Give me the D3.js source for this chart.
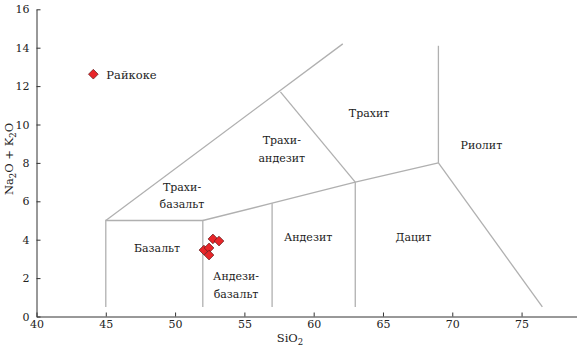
<!DOCTYPE html>
<html lang="ru">
<head>
<meta charset="utf-8">
<title>TAS</title>
<script src="https://cdn.jsdelivr.net/npm/d3@7"></script>
<style>
  body { margin: 0; background: #fff; }
  svg text { font-family: "DejaVu Serif", "Liberation Serif", "Noto Serif", "Times New Roman", Times, serif !important; fill: #222; }
  .axis text { font-size: 11px; }
  .field { font-size: 11px; }
</style>
</head>
<body>
<svg width="577" height="352"></svg>
<script>
// границы полей (SiO2, Na2O+K2O)
const boundaries = [
  [[45, 0.5], [45, 5], [52, 5], [52, 0.5]],
  [[57, 0.5], [57, 5.9]],
  [[63, 0.5], [63, 7]],
  [[52, 5], [57, 5.9], [63, 7], [69, 8]],
  [[69, 8], [69, 14.1]],
  [[69, 8], [76.5, 0.5]],
  [[45, 5], [62.1, 14.2]],
  [[57.6, 11.7], [63, 7]]
];

const fieldNames = [
  {x: 54.4, y: 1.9, lines: ["Андези-", "базальт"]},
  {x: 48.7, y: 3.35, lines: ["Базальт"]},
  {x: 59.6, y: 3.93, lines: ["Андезит"]},
  {x: 67.2, y: 3.93, lines: ["Дацит"]},
  {x: 50.5, y: 6.54, lines: ["Трахи-", "базальт"]},
  {x: 57.7, y: 8.98, lines: ["Трахи-", "андезит"]},
  {x: 64.0, y: 10.39, lines: ["Трахит"]},
  {x: 72.1, y: 8.72, lines: ["Риолит"]}
];

const sio2 = [44.1, 52.73, 53.17, 52.08, 52.45, 52.45];
const alk = [12.62, 4.04, 3.93, 3.46, 3.57, 3.2];

const xTicks = [40, 45, 50, 55, 60, 65, 70, 75];
const yTicks = [0, 2, 4, 6, 8, 10, 12, 14, 16];

const svg = d3.select("svg");
const x = d3.scaleLinear().domain([40, 79]).range([36.5, 577]);
const y = d3.scaleLinear().domain([0, 16]).range([316.5, 9.3]);

const line = d3.line().x(d => x(d[0])).y(d => y(d[1]));

svg.append("g")
  .selectAll("path")
  .data(boundaries)
  .enter()
  .append("path")
    .attr("d", line)
    .attr("fill", "none")
    .attr("stroke", "#b0b0b0")
    .attr("stroke-width", 1.3);

// оси
const gx = svg.append("g").attr("class", "axis")
  .attr("transform", "translate(0," + y(0) + ")")
  .call(d3.axisBottom(x).tickValues(xTicks).tickSizeInner(-4).tickSizeOuter(0).tickPadding(4));

const gy = svg.append("g").attr("class", "axis")
  .attr("transform", "translate(" + x(40) + ",0)")
  .call(d3.axisLeft(y).tickValues(yTicks).tickSizeInner(-4).tickSizeOuter(0).tickPadding(7));
svg.selectAll(".axis").attr("font-family", null);
svg.selectAll(".axis text").attr("fill", "#222");
svg.selectAll(".axis .domain").attr("stroke", "#333");
svg.selectAll(".axis line").attr("stroke", "#333");

// названия полей
const names = svg.append("g").attr("class", "field")
  .selectAll("text")
  .data(fieldNames)
  .enter()
  .append("text")
    .attr("text-anchor", "middle")
    .attr("x", d => x(d.x))
    .attr("y", d => y(d.y));
names.selectAll("tspan")
  .data(d => d.lines.map((t, i) => ({t: t, i: i, x: d.x})))
  .enter()
  .append("tspan")
    .attr("x", d => x(d.x))
    .attr("dy", d => d.i === 0 ? 0 : 17.5)
    .text(d => d.t);

// точки
const diamond = d3.symbol().type(d3.symbolDiamond2).size(60);
svg.append("g")
  .selectAll("path")
  .data(sio2)
  .enter()
  .append("path")
    .attr("d", diamond)
    .attr("transform", (d, i) => "translate(" + x(d) + "," + y(alk[i]) + ")")
    .attr("fill", "#e8262a")
    .attr("stroke", "#5a1a1a")
    .attr("stroke-width", 0.7);

svg.append("text")
  .attr("x", x(sio2[0]) + 13)
  .attr("y", y(alk[0]) + 4.5)
  .attr("font-size", 11.5)
  .text("Райкоке");

// подписи осей
const xl = svg.append("text")
  .attr("x", 290).attr("y", 342)
  .attr("text-anchor", "middle")
  .attr("font-size", 11.5);
xl.append("tspan").text("SiO");
xl.append("tspan").attr("font-size", 8.5).attr("dy", 3).text("2");

const yl = svg.append("text")
  .attr("transform", "translate(13,159) rotate(-90)")
  .attr("text-anchor", "middle")
  .attr("font-size", 11.5);
yl.append("tspan").text("Na");
yl.append("tspan").attr("font-size", 8.5).attr("dy", 3).text("2");
yl.append("tspan").attr("dy", -3).text("O + K");
yl.append("tspan").attr("font-size", 8.5).attr("dy", 3).text("2");
yl.append("tspan").attr("dy", -3).text("O");
</script>
</body>
</html>
